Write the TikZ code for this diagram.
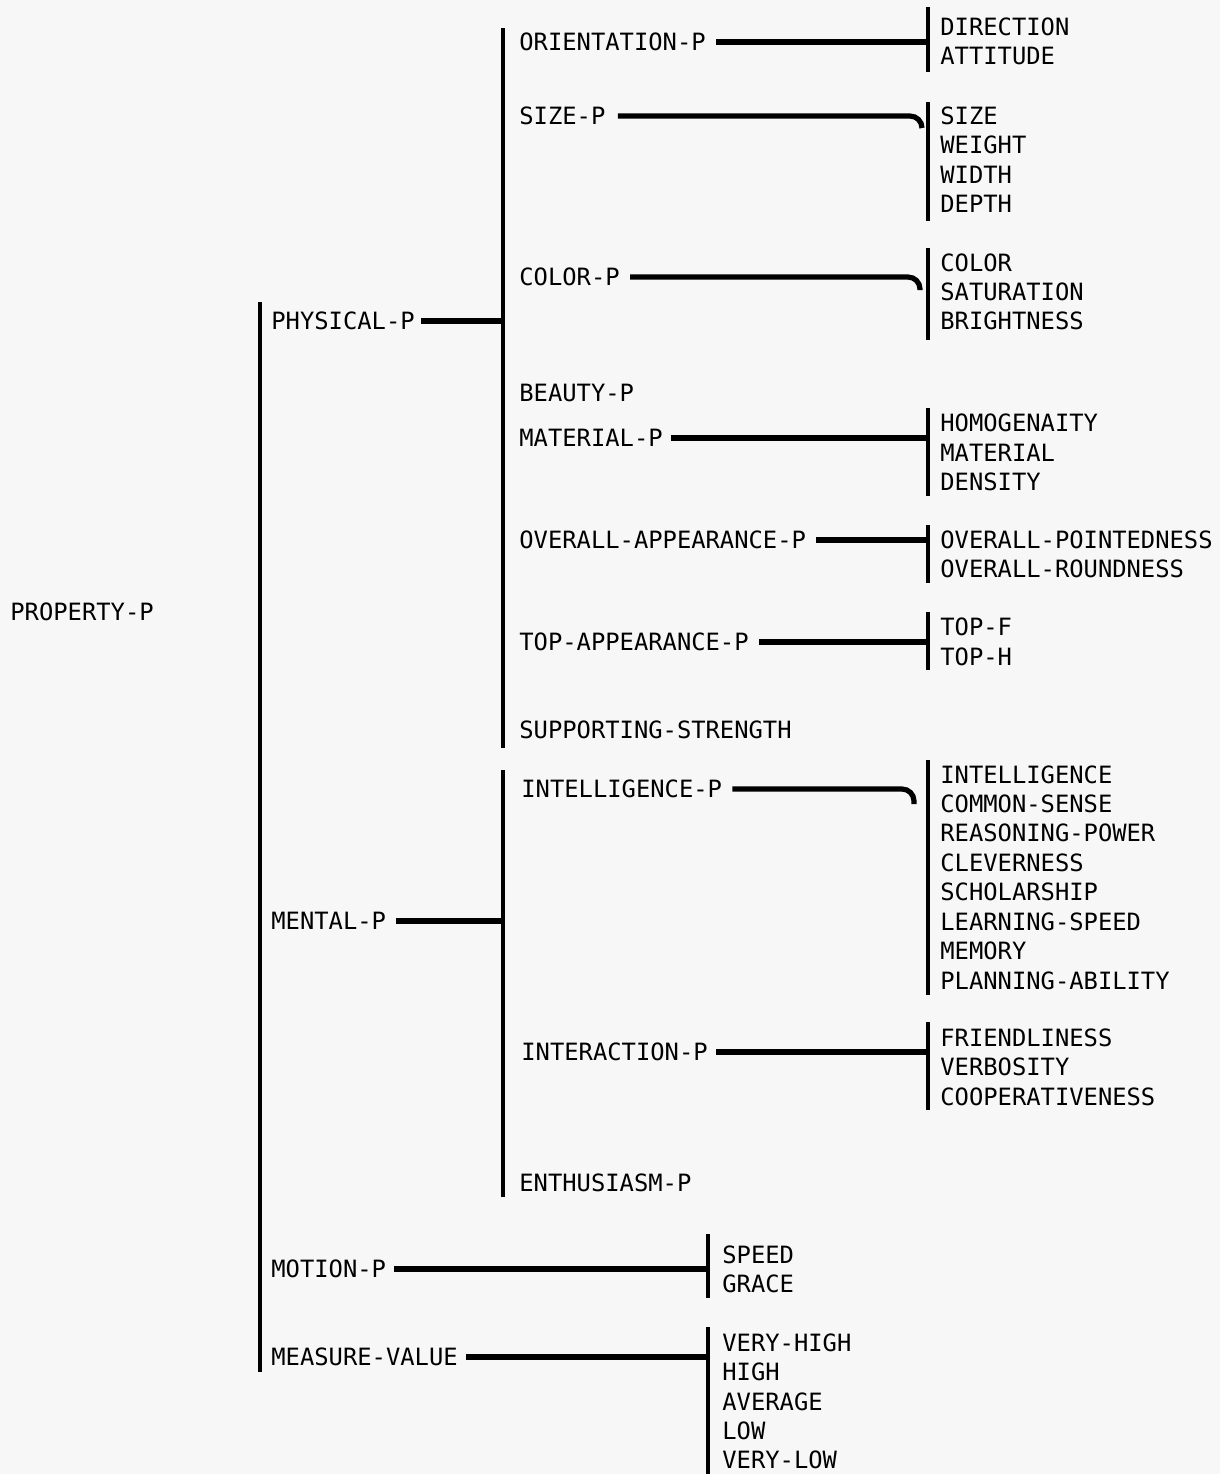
\documentclass[tikz,border=0pt]{standalone}
\usepackage{fontspec}
\setmonofont{DejaVu Sans Mono}

\tikzset{
  lbl/.style={anchor=west, inner sep=0pt, text height=8.6pt, text depth=0pt,
    font=\ttfamily\fontsize{11.9}{14}\selectfont},
  bar/.style={line width=2pt},
  link/.style={line width=2.6pt},
}

\begin{document}
\begin{tikzpicture}[x=0.5pt, y=-0.5pt]
\fill[black!3] (0,0) rectangle (1220,1474);
\useasboundingbox (0,0) rectangle (1220,1474);

% root and first level
\node[lbl] (property) at (10,612) {PROPERTY-P};
\coordinate (rootT) at (260,302);
\coordinate (rootB) at (260,1372);
\draw[bar] (rootT) -- (rootB);

\node[lbl] (physical) at (271,321) {PHYSICAL-P};
\node[lbl] (mental) at (271,921) {MENTAL-P};
\node[lbl] (motion) at (271,1269) {MOTION-P};
\node[lbl] (measure) at (271,1357) {MEASURE-VALUE};

% second level bars
\coordinate (physT) at (503,28);
\coordinate (physB) at (503,748);
\coordinate (mentT) at (503,770);
\coordinate (mentB) at (503,1197);
\draw[bar] (physT) -- (physB);
\draw[bar] (mentT) -- (mentB);
\draw[link] ([xshift=3pt]physical.east) -- (physical.east -| physT);
\draw[link] ([xshift=5pt]mental.east) -- (mental.east -| mentT);

% physical
\node[lbl] (orient) at (519,42) {ORIENTATION-P};
\node[lbl] (size) at (519,116) {SIZE-P};
\node[lbl] (color) at (519,277) {COLOR-P};
\node[lbl] (beauty) at (519,393) {BEAUTY-P};
\node[lbl] (material) at (519,438) {MATERIAL-P};
\node[lbl] (overall) at (519,540) {OVERALL-APPEARANCE-P};
\node[lbl] (top) at (519,642) {TOP-APPEARANCE-P};
\node[lbl] (support) at (519,730) {SUPPORTING-STRENGTH};

% mental
\node[lbl] (intel) at (521,789) {INTELLIGENCE-P};
\node[lbl] (inter) at (521,1052) {INTERACTION-P};
\node[lbl] (enthus) at (519,1183) {ENTHUSIASM-P};

% brackets of the last level
\coordinate (orientT) at (928,7);     \coordinate (orientB) at (928,72);
\coordinate (sizeT) at (928,102);     \coordinate (sizeB) at (928,221);
\coordinate (colorT) at (928,248);    \coordinate (colorB) at (928,340);
\coordinate (materialT) at (928,408); \coordinate (materialB) at (928,496);
\coordinate (overallT) at (928,525);  \coordinate (overallB) at (928,583);
\coordinate (topT) at (928,612);      \coordinate (topB) at (928,670);
\coordinate (intelT) at (928,760);    \coordinate (intelB) at (928,995);
\coordinate (interT) at (928,1022);   \coordinate (interB) at (928,1110);
\coordinate (motionT) at (708,1234);  \coordinate (motionB) at (708,1298);
\coordinate (measureT) at (708,1327); \coordinate (measureB) at (708,1474);
\draw[bar] (orientT) -- (orientB);
\draw[bar] (sizeT) -- (sizeB);
\draw[bar] (colorT) -- (colorB);
\draw[bar] (materialT) -- (materialB);
\draw[bar] (overallT) -- (overallB);
\draw[bar] (topT) -- (topB);
\draw[bar] (intelT) -- (intelB);
\draw[bar] (interT) -- (interB);
\draw[bar] (motionT) -- (motionB);
\draw[bar] (measureT) -- (measureB);

% hooked links
\coordinate (sizeH) at (922,128);
\coordinate (colorH) at (920,290);
\coordinate (intelH) at (914,804);

\draw[link] ([xshift=5pt]orient.east) -- (orient.east -| orientT);
\draw[link, rounded corners=6pt] ([xshift=6pt]size.east) -| (sizeH);
\draw[link, rounded corners=6pt] ([xshift=5pt]color.east) -| (colorH);
\draw[link] ([xshift=4pt]material.east) -- (material.east -| materialT);
\draw[link] ([xshift=5pt]overall.east) -- (overall.east -| overallT);
\draw[link] ([xshift=5pt]top.east) -- (top.east -| topT);
\draw[link, rounded corners=6pt] ([xshift=5pt]intel.east) -| (intelH);
\draw[link] ([xshift=4pt]inter.east) -- (inter.east -| interT);
\draw[link] ([xshift=4pt]motion.east) -- (motion.east -| motionT);
\draw[link] ([xshift=4pt]measure.east) -- (measure.east -| measureT);

% leaves
\node[lbl] (direction) at (940,27) {DIRECTION};
\node[lbl] (attitude) at (940,56) {ATTITUDE};

\node[lbl] (sizeL) at (940,116) {SIZE};
\node[lbl] (weight) at (940,145) {WEIGHT};
\node[lbl] (width) at (940,175) {WIDTH};
\node[lbl] (depth) at (940,204) {DEPTH};

\node[lbl] (colorL) at (940,263) {COLOR};
\node[lbl] (saturation) at (940,292) {SATURATION};
\node[lbl] (brightness) at (940,321) {BRIGHTNESS};

\node[lbl] (homog) at (940,423) {HOMOGENAITY};
\node[lbl] (materialL) at (940,453) {MATERIAL};
\node[lbl] (density) at (940,482) {DENSITY};

\node[lbl] (pointed) at (940,540) {OVERALL-POINTEDNESS};
\node[lbl] (round) at (940,569) {OVERALL-ROUNDNESS};

\node[lbl] (topf) at (940,627) {TOP-F};
\node[lbl] (toph) at (940,657) {TOP-H};

\node[lbl] (intelL) at (940,775) {INTELLIGENCE};
\node[lbl] (sense) at (940,804) {COMMON-SENSE};
\node[lbl] (reason) at (940,833) {REASONING-POWER};
\node[lbl] (clever) at (940,863) {CLEVERNESS};
\node[lbl] (scholar) at (940,892) {SCHOLARSHIP};
\node[lbl] (learn) at (940,922) {LEARNING-SPEED};
\node[lbl] (memory) at (940,951) {MEMORY};
\node[lbl] (plan) at (940,981) {PLANNING-ABILITY};

\node[lbl] (friendly) at (940,1038) {FRIENDLINESS};
\node[lbl] (verbose) at (940,1067) {VERBOSITY};
\node[lbl] (coop) at (940,1097) {COOPERATIVENESS};

\node[lbl] (speed) at (722,1255) {SPEED};
\node[lbl] (grace) at (722,1284) {GRACE};

\node[lbl] (vhigh) at (722,1343) {VERY-HIGH};
\node[lbl] (high) at (722,1372) {HIGH};
\node[lbl] (avg) at (722,1402) {AVERAGE};
\node[lbl] (low) at (722,1431) {LOW};
\node[lbl] (vlow) at (722,1460) {VERY-LOW};
\end{tikzpicture}
\end{document}
